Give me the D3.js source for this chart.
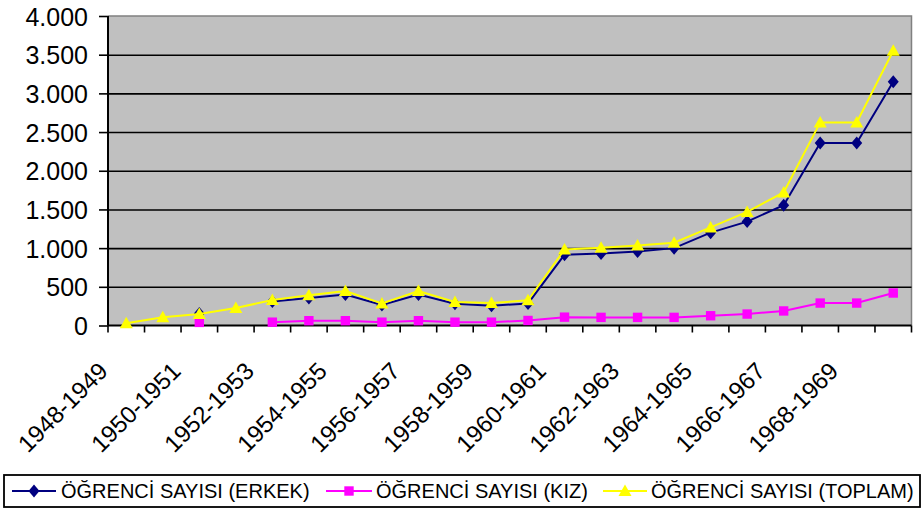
<!DOCTYPE html>
<html>
<head>
<meta charset="utf-8">
<script src="https://cdn.jsdelivr.net/npm/d3@7"></script>
<style>
  html, body { margin: 0; padding: 0; background: #fff; }
  svg { display: block; }
  text { font-family: "Liberation Sans", Arial, sans-serif; fill: #000; }
</style>
</head>
<body>
<svg id="chart" width="923" height="509"></svg>
<script>
// ---- data ----
const categories = [
  "1948-1949","1949-1950","1950-1951","1951-1952","1952-1953","1953-1954",
  "1954-1955","1955-1956","1956-1957","1957-1958","1958-1959","1959-1960",
  "1960-1961","1961-1962","1962-1963","1963-1964","1964-1965","1965-1966",
  "1966-1967","1967-1968","1968-1969","1969-1970"
];
const erkek  = [null, null, 155, null, 310, 355, 400, 265, 400, 282, 256, 285, 915, 930, 955, 1000, 1200, 1343, 1555, 2358, 2358, 3150];
const kiz    = [null, null, 40, null, 43, 62, 62, 43, 62, 43, 43, 65, 108, 105, 105, 105, 126, 148, 188, 290, 290, 420];
const toplam = [30, 108, 150, 225, 330, 390, 445, 285, 445, 303, 290, 325, 983, 1005, 1035, 1070, 1268, 1468, 1720, 2625, 2625, 3550];
const yTicks = [0, 500, 1000, 1500, 2000, 2500, 3000, 3500, 4000];
const seriesNames = ["ÖĞRENCİ SAYISI (ERKEK)", "ÖĞRENCİ SAYISI (KIZ)", "ÖĞRENCİ SAYISI (TOPLAM)"];

// ---- layout ----
const svg = d3.select("#chart");
const L = 108, R = 911.5, T = 16, B = 325.5;

const x = d3.scaleBand().domain(categories).range([L, R]);
const y = d3.scaleLinear().domain([0, 4000]).range([B, T]);
const fmt = d3.formatLocale({decimal: ",", thousands: ".", grouping: [3], currency: ["", ""]}).format(",d");

// plot background
svg.append("rect").attr("x", L).attr("y", T).attr("width", R - L).attr("height", B - T)
  .attr("fill", "#C0C0C0");
svg.append("path").attr("d", `M${L},${T}H${R}V${B}`).attr("fill", "none")
  .attr("stroke", "#808080").attr("stroke-width", 1.5);

// gridlines
const grid = svg.append("g").attr("transform", `translate(${L},0)`)
  .call(d3.axisLeft(y).tickValues(yTicks.filter(v => v > 0 && v < 4000)).tickSize(-(R - L)).tickFormat(""));
grid.select(".domain").remove();
grid.selectAll("line").attr("stroke", "#000").attr("stroke-width", 1.6);

// y axis
const yAxis = svg.append("g").attr("transform", `translate(${L},0)`)
  .call(d3.axisLeft(y).tickValues(yTicks).tickSize(9).tickPadding(11).tickFormat(fmt));
yAxis.select(".domain").attr("stroke", "#000").attr("stroke-width", 2).attr("d", `M0,${T}V${B}`);
yAxis.selectAll(".tick line").attr("stroke", "#000").attr("stroke-width", 1.6);
yAxis.selectAll(".tick text").attr("font-size", 25).attr("font-family", "Liberation Sans, Arial, sans-serif")
  .attr("fill", "#000").attr("dy", "0.36em");

// x axis
svg.append("line").attr("x1", L).attr("x2", R).attr("y1", B).attr("y2", B)
  .attr("stroke", "#000").attr("stroke-width", 2);
const bounds = categories.map(c => x(c)).concat([x.range()[1]]);
svg.append("g").selectAll("line").data(bounds).join("line")
  .attr("x1", d => d).attr("x2", d => d).attr("y1", B).attr("y2", B + 7)
  .attr("stroke", "#000").attr("stroke-width", 1.6);

svg.append("g").selectAll("text").data(categories.filter((c, i) => i % 2 === 0)).join("text")
  .attr("transform", d => `translate(${x(d) + x.bandwidth() / 2 - 17},${B + 47}) rotate(-45)`)
  .attr("text-anchor", "end").attr("font-size", 24).text(d => d);

// ---- series ----
const cx = i => x(categories[i]) + x.bandwidth() / 2;
const markers = {
  diamond: "M0,-6.5L5.5,0L0,6.5L-5.5,0Z",
  square: "M-4.7,-4.7H4.7V4.7H-4.7Z",
  triangle: "M0,-6.5L6.5,5L-6.5,5Z"
};
const series = [
  {vals: erkek, color: "#000080", marker: markers.diamond},
  {vals: kiz, color: "#FF00FF", marker: markers.square},
  {vals: toplam, color: "#FFFF00", marker: markers.triangle}
];
const line = d3.line().defined(d => d[1] != null).x(d => cx(d[0])).y(d => y(d[1]));
series.forEach(s => {
  const pts = s.vals.map((v, i) => [i, v]);
  svg.append("path").attr("d", line(pts)).attr("fill", "none")
    .attr("stroke", s.color).attr("stroke-width", 2);
  svg.append("g").selectAll("path").data(pts.filter(p => p[1] != null)).join("path")
    .attr("d", s.marker).attr("fill", s.color)
    .attr("transform", p => `translate(${cx(p[0])},${y(p[1])})`);
});

// ---- legend ----
svg.append("rect").attr("x", 4).attr("y", 475).attr("width", 916).attr("height", 32)
  .attr("fill", "#fff").attr("stroke", "#000").attr("stroke-width", 1.8);
const legX = [{l: 12, r: 56, t: 61}, {l: 326, r: 372, t: 376}, {l: 603, r: 647, t: 651}];
const ly = 491;
series.forEach((s, i) => {
  const g = svg.append("g");
  g.append("line").attr("x1", legX[i].l).attr("x2", legX[i].r).attr("y1", ly).attr("y2", ly)
    .attr("stroke", s.color).attr("stroke-width", 2);
  g.append("path").attr("d", s.marker).attr("fill", s.color)
    .attr("transform", `translate(${(legX[i].l + legX[i].r) / 2},${ly})`);
  g.append("text").attr("x", legX[i].t).attr("y", ly + 7).attr("font-size", 20).text(seriesNames[i]);
});
</script>
</body>
</html>
